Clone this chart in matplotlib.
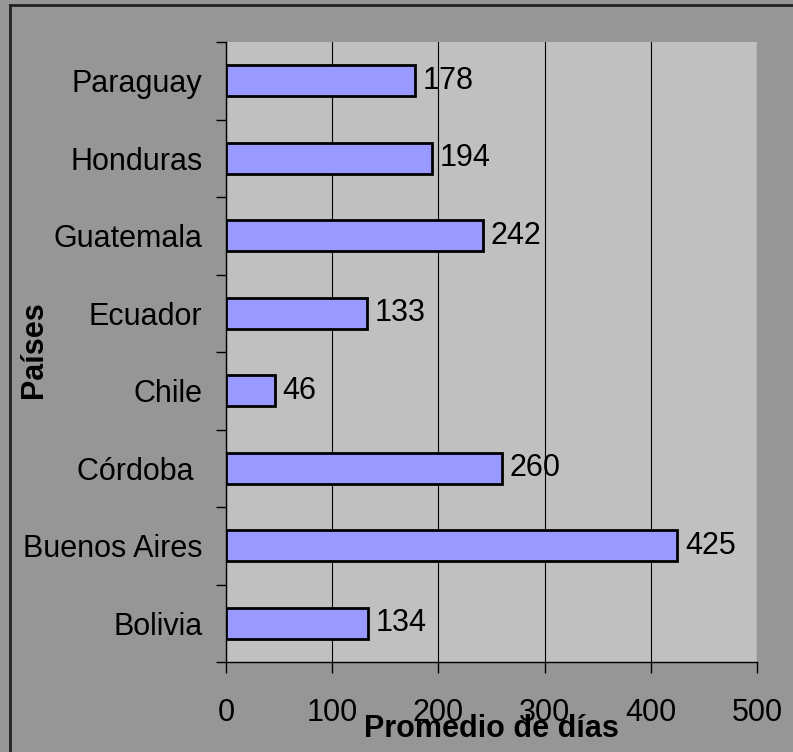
import matplotlib.pyplot as plt
from matplotlib.lines import Line2D

plt.rcParams['font.family'] = ['Liberation Sans', 'DejaVu Sans']

paises = ['Bolivia', 'Buenos Aires', 'Córdoba ', 'Chile', 'Ecuador', 'Guatemala', 'Honduras', 'Paraguay']
dias = [134, 425, 260, 46, 133, 242, 194, 178]
x_ticks = [0, 100, 200, 300, 400, 500]

fs = 22

fig = plt.figure(figsize=(7.93, 7.52), dpi=100)
fig.patch.set_facecolor('#969696')
ax = fig.add_axes([226 / 793, 1 - 662 / 752, (757 - 226) / 793, (662 - 42) / 752])
ax.set_facecolor('#C0C0C0')

pos = list(range(len(paises)))
bars = ax.barh(pos, dias, height=0.4, color='#9999FF', edgecolor='black', linewidth=2, zorder=3)
for p, v in zip(pos, dias):
    ax.text(v + 7, p, str(v), va='center', ha='left', fontsize=fs, zorder=4)

ax.set_xlim(0, 500)
ax.set_ylim(-0.5, len(paises) - 0.5)
ax.set_xticks(x_ticks)
ax.set_xticklabels([str(t) for t in x_ticks], fontsize=fs)
ax.xaxis.grid(True, color='black', linewidth=0.8, zorder=1)
ax.set_axisbelow(True)

# category labels between the boundary ticks
ax.set_yticks([p - 0.5 for p in pos] + [len(paises) - 0.5])
ax.set_yticklabels([])
ax.set_yticks(pos, minor=True)
ax.set_yticklabels(paises, minor=True, fontsize=fs)
ax.tick_params(axis='y', which='minor', length=0, pad=17)
ax.tick_params(axis='y', which='major', length=7, width=1, direction='out')
ax.tick_params(axis='x', length=8, width=1, direction='out', pad=18)

for s in ['top', 'right']:
    ax.spines[s].set_visible(False)
for s in ['left', 'bottom']:
    ax.spines[s].set_color('black')
    ax.spines[s].set_linewidth(1)

fig.text(491 / 793, 1 - 729 / 752, 'Promedio de días', fontsize=fs, fontweight='bold', ha='center', va='center')
fig.text(34 / 793, 1 - 350 / 752, 'Países', fontsize=fs, fontweight='bold', ha='center', va='center', rotation=90)

# chart area border (left and top)
fig.add_artist(Line2D([10 / 793, 10 / 793], [0, 1 - 5 / 752], transform=fig.transFigure, color='#222222', linewidth=2))
fig.add_artist(Line2D([10 / 793, 1], [1 - 5 / 752, 1 - 5 / 752], transform=fig.transFigure, color='#222222', linewidth=2))

fig.savefig('out.png', dpi=100, facecolor=fig.get_facecolor())
